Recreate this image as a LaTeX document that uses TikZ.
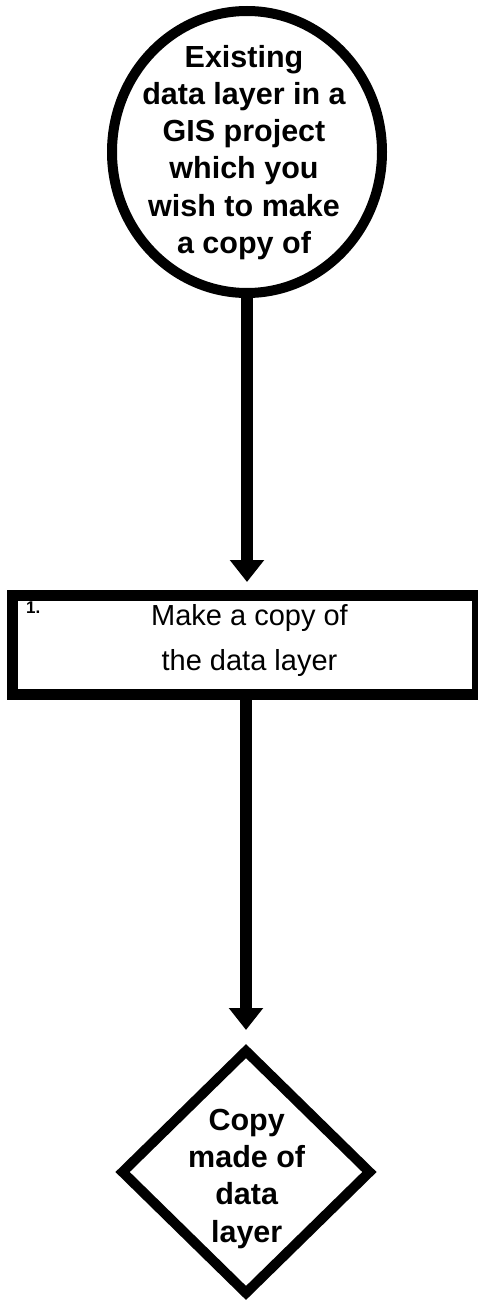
\documentclass[tikz,border=0pt]{standalone}
\usepackage{fontspec}
\setmainfont{Liberation Sans}
\usetikzlibrary{shapes.geometric,arrows.meta}
\begin{document}
\begin{tikzpicture}[x=1pt,y=-1pt,
  shapeline/.style={draw=black, fill=white, inner sep=0pt},
  flowarrow/.style={line width=12pt, -{Triangle[width=33pt,length=22pt]}},
  boldtext/.style={font=\fontsize{30.5pt}{37.2pt}\selectfont\bfseries, align=center, inner sep=0pt},
  plaintext/.style={font=\fontsize{29pt}{45pt}\selectfont, align=center, inner sep=0pt}]
\useasboundingbox (0,0) rectangle (477,1303);
\node[shapeline, ellipse, line width=10pt, minimum width=270pt, minimum height=282pt] (start) at (247,152) {};
\node[boldtext] (starttext) at (244,152.5) {Existing\\data layer in a\\GIS project\\which you\\wish to make\\a copy of};
\node[shapeline, rectangle, line width=11pt, minimum width=464.4pt, minimum height=99.2pt] (step1) at (245,645.1) {};
\node[plaintext] (step1text) at (249.5,640.1) {Make a copy of\\the data layer};
\node[font=\fontsize{17pt}{20pt}\selectfont\bfseries, anchor=base west, inner sep=0pt] (step1num) at (26,613) {1.};
\node[shapeline, diamond, line width=10pt, minimum width=251pt, minimum height=246pt] (result) at (246,1172) {};
\node[boldtext] (resulttext) at (246.7,1178.9) {Copy\\made of\\data\\layer};
\draw[flowarrow, shorten >=8pt] (start.south) -- (start.south |- step1.north);
\draw[flowarrow, shorten >=14pt] (step1.south -| result.north) -- (result.north);
\end{tikzpicture}
\end{document}
